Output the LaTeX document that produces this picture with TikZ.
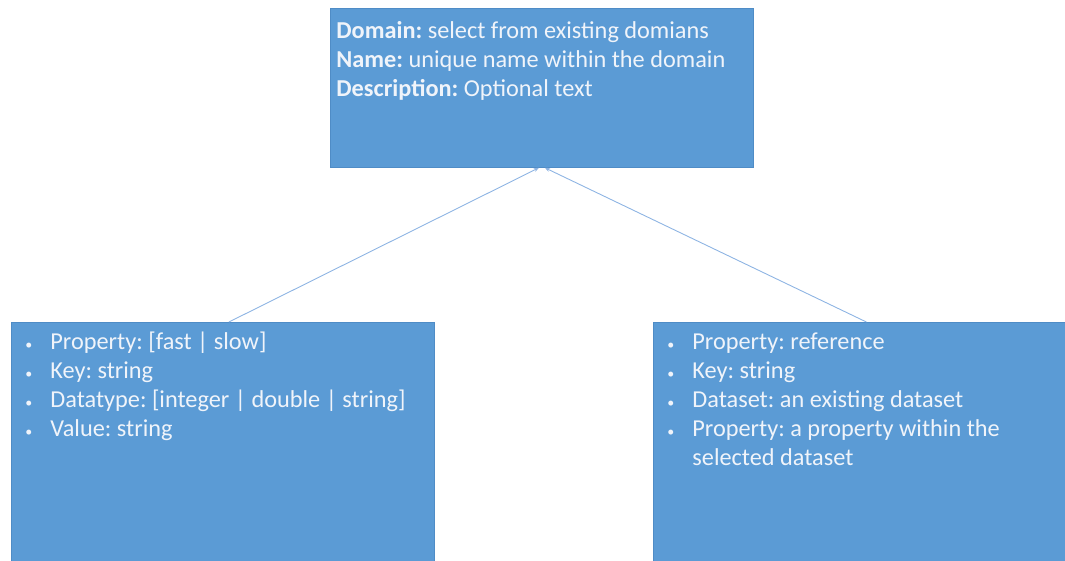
\documentclass[tikz,border=0pt]{standalone}
\usepackage{fontspec}
\setmainfont{Carlito}
\usepackage{xcolor}
\usetikzlibrary{positioning}
\usetikzlibrary{calc}
\usetikzlibrary{arrows.meta}
\frenchspacing

\definecolor{boxblue}{HTML}{5B9BD5}
\definecolor{boxedge}{HTML}{4F8CC6}
\definecolor{boxtext}{HTML}{F0F4FA}
\definecolor{linkblue}{HTML}{8EB4E3}

\newcommand{\bulletitem}[1]{\makebox[26pt][l]{\hspace*{1pt}\fontsize{14}{14}\selectfont\textbullet}#1}
\newcommand{\boxtext}[3]{\parbox[t][#2][t]{#1}{\raggedright #3}}

\tikzset{
    infobox/.style = {rectangle, fill = boxblue, draw = boxedge, line width = 0.8pt,
                      anchor = north west, align = left, text = boxtext, inner ysep = 0pt,
                      font = \fontsize{24.3}{29}\selectfont},
    link/.style = {draw = linkblue, line width = 0.9pt, -{Stealth[length = 5pt, width = 4pt]}}
}

\begin{document}
\begin{tikzpicture}[x = 1pt, y = -1pt]
            % Fix the frame of the picture:
            \useasboundingbox (0,0) rectangle (1065,560);
            \clip (0,0) rectangle (1065,560);

            % Draw the domain box on top:
            \node [infobox, inner xsep = 6pt] (domain) at (330,8)
                {\boxtext{411pt}{159pt}{\vspace*{13pt}
                 \textbf{Domain:} select from existing domians\\
                 \textbf{Name:} unique name within the domain\\
                 \textbf{Description:} Optional text}};

            % Draw the two property boxes below:
            \node [infobox, inner xsep = 13pt] (fixedprop) at (11,322)
                {\boxtext{397pt}{250pt}{\vspace*{10pt}
                 \bulletitem{Property: [fast | slow]}\\
                 \bulletitem{Key: string}\\
                 \bulletitem{Datatype: [integer | double | string]}\\
                 \bulletitem{Value: string}}};
            \node [infobox, inner xsep = 13pt] (refprop) at (653,322)
                {\boxtext{400pt}{250pt}{\vspace*{10pt}
                 \bulletitem{Property: reference}\\
                 \bulletitem{Key: string}\\
                 \bulletitem{Dataset: an existing dataset}\\
                 \bulletitem{Property: a property within the}\\
                 \hspace*{26pt}selected dataset}};

            % Draw the links up to the domain box:
            \draw [link] ($(fixedprop.north)+(6,0)$) -- ($(domain.south)+(-3,0)$);
            \draw [link] (refprop.north) -- ($(domain.south)+(3,0)$);
        \end{tikzpicture}
\end{document}
